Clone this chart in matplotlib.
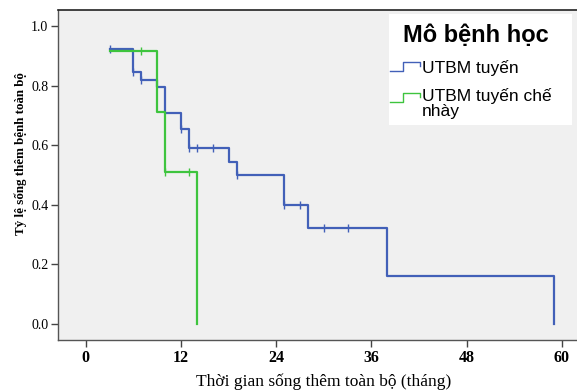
import matplotlib
matplotlib.use("Agg")
import matplotlib.pyplot as plt
from matplotlib.lines import Line2D
from matplotlib.patches import Rectangle


# ──────────────────────────────────────────────
# Data
# ──────────────────────────────────────────────

legend_title = "Mô bệnh học"
groups = ["UTBM tuyến", "UTBM tuyến chế\nnhày"]
colors = ["#4260b8", "#3ec43e"]

# step times (months) and survival after each step
blue_t = [3, 6, 7, 9, 10, 12, 13, 18, 19, 25, 28, 38, 59]
blue_s = [0.922, 0.847, 0.819, 0.794, 0.709, 0.654, 0.590, 0.544, 0.500, 0.399, 0.321, 0.161, 0.0]
blue_cens_t = [3, 6, 7, 12, 13, 14, 16, 19, 25, 27, 30, 33]
blue_cens_s = [0.922, 0.847, 0.819, 0.654, 0.590, 0.590, 0.590, 0.500, 0.399, 0.399, 0.321, 0.321]

green_t = [3, 9, 10, 14]
green_s = [0.915, 0.711, 0.509, 0.0]
green_cens_t = [7, 10, 13]
green_cens_s = [0.915, 0.509, 0.509]

x_ticks = [0, 12, 24, 36, 48, 60]
y_ticks = [0.0, 0.2, 0.4, 0.6, 0.8, 1.0]

W, H = 577, 392


def fx(px):
    return px / W


def fy(py):
    # pixel rows are counted from the top
    return 1 - py / H


fig = plt.figure(figsize=(W / 100, H / 100), dpi=100)
ax = fig.add_axes([fx(58), 52 / H, 1.0 - fx(58), 330 / H])
ax.set_facecolor("#f0f0f0")

series = [
    (blue_t, blue_s, blue_cens_t, blue_cens_s),
    (green_t, green_s, green_cens_t, green_cens_s),
]
for (t, s, ct, cs), col in zip(series, colors):
    ax.step(t, s, where="post", color=col, lw=1.6)
    ax.plot(ct, cs, ls="none", marker="|", ms=6, mew=1.0, color=col)

ax.set_xlim(-3.5, 61.9)
ax.set_ylim(-0.054, 1.054)
ax.set_xticks(x_ticks)
ax.set_yticks(y_ticks)
ax.set_xticklabels([str(v) for v in x_ticks], family="Liberation Serif",
                   fontweight="bold", fontsize=11.5)
ax.set_yticklabels([f"{v:.1f}" for v in y_ticks], family="Liberation Serif", fontsize=10)
ax.tick_params(axis="both", length=5, width=1, color="#444444", pad=2)

for side in ["left", "bottom"]:
    ax.spines[side].set_color("#555555")
    ax.spines[side].set_linewidth(1.0)
ax.spines["top"].set_color("#222222")
ax.spines["top"].set_linewidth(1.2)
ax.spines["right"].set_visible(False)

fig.text(fx(324), fy(382), "Thời gian sống thêm toàn bộ (tháng)",
         family="Liberation Serif", fontsize=12.5, ha="center", va="center")
fig.text(fx(21), fy(154), "Tỷ lệ sống thêm bệnh toàn bộ",
         family="Liberation Serif", fontsize=9.4, fontweight="bold",
         rotation=90, ha="center", va="center")

# ── legend, drawn by hand to get the SPSS look ──
fig.patches.append(Rectangle((fx(389), fy(125)), fx(572) - fx(389), fy(14) - fy(125),
                             transform=fig.transFigure, facecolor="white",
                             edgecolor="none", zorder=3))
fig.text(fx(403), fy(42.5), legend_title, family="Liberation Sans", fontsize=17,
         fontweight="bold", va="baseline", zorder=4)

key_rows = [70.7, 101.7]   # baseline of each step-shaped key
text_rows = [73.0, 100.5]  # baseline of the first text line
for col, name, ky, ty in zip(colors, groups, key_rows, text_rows):
    xs = [390, 402.7, 402.7, 420, 420]
    ys = [ky, ky, ky - 9, ky - 9, ky - 5]
    fig.lines.append(Line2D([fx(v) for v in xs], [fy(v) for v in ys], color=col,
                            lw=1.0, transform=fig.transFigure, zorder=4))
    for i, line in enumerate(name.split("\n")):
        fig.text(fx(422), fy(ty + i * 15.5), line, family="Liberation Sans",
                 fontsize=12.5, va="baseline", zorder=4)

fig.savefig("out.png", dpi=100)
